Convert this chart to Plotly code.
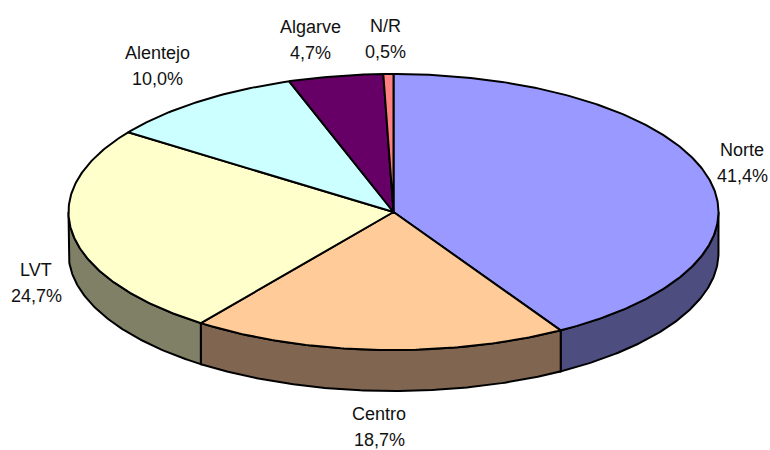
import math
import plotly.graph_objects as go

categories = ["Norte", "Centro", "LVT", "Alentejo", "Algarve", "N/R"]
values = [41.4, 18.7, 24.7, 10.0, 4.7, 0.5]
value_labels = ["41,4%", "18,7%", "24,7%", "10,0%", "4,7%", "0,5%"]
top_colors = ["#9999FF", "#FFCC99", "#FFFFCC", "#CCFFFF", "#660066", "#FF8080"]
side_colors = ["#4D4D80", "#806650", "#808066", "#668080", "#330033", "#804040"]
# label centres in pixels of the 770x450 page
label_pos = [(742, 163), (379, 427), (36, 283), (157, 66), (310, 40), (385, 39)]

W, H = 770, 450
CX, CY, RX, RY, DEPTH = 393.5, 212, 325, 138, 41
LINE_GAP = 13
total = sum(values)


def pt(a, drop=0.0):
    return CX + RX * math.sin(a), CY - RY * math.cos(a) + drop


def arc(a0, a1, drop=0.0):
    n = max(2, int(abs(a1 - a0) / 0.01))
    return [pt(a0 + (a1 - a0) * i / n, drop) for i in range(n + 1)]


fig = go.Figure()
LINE = dict(color="black", width=2)


def poly(points, color):
    xs, ys = zip(*points)
    fig.add_trace(go.Scatter(x=list(xs) + [xs[0]], y=list(ys) + [ys[0]], mode="lines",
                             fill="toself", fillcolor=color, line=LINE,
                             hoverinfo="skip", showlegend=False))


# slice angles (clockwise from 12 o'clock)
angles = [0.0]
for v in values:
    angles.append(angles[-1] + 2 * math.pi * v / total)

# visible outer wall (front half: pi/2 .. 3pi/2)
for i in range(len(values)):
    a0, a1 = max(angles[i], math.pi / 2), min(angles[i + 1], 3 * math.pi / 2)
    if a1 > a0:
        poly(arc(a0, a1) + arc(a1, a0, DEPTH), side_colors[i])

# top faces
for i in range(len(values)):
    poly([(CX, CY)] + arc(angles[i], angles[i + 1]), top_colors[i])

FONT = dict(family="Liberation Sans, Arial", size=18, color="#111111")
for cat, lab, (x, y) in zip(categories, value_labels, label_pos):
    fig.add_annotation(x=x, y=y - LINE_GAP, text=cat, showarrow=False, xref="x", yref="y", font=FONT)
    fig.add_annotation(x=x, y=y + LINE_GAP, text=lab, showarrow=False, xref="x", yref="y", font=FONT)

fig.update_layout(width=W, height=H, margin=dict(l=0, r=0, t=0, b=0),
                  paper_bgcolor="white", plot_bgcolor="white", showlegend=False,
                  xaxis=dict(range=[0, W], visible=False, fixedrange=True),
                  yaxis=dict(range=[H, 0], visible=False, fixedrange=True))
fig.write_html("out.html", config={"displayModeBar": False},
               post_script="document.body.style.margin='0';document.documentElement.style.overflow='hidden';")
